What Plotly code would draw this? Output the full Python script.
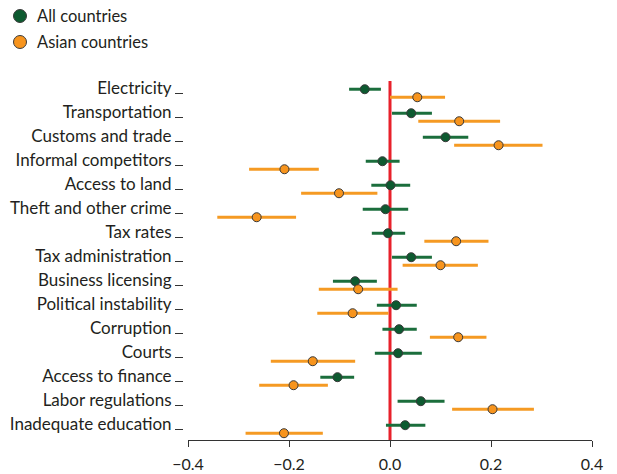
import plotly.graph_objects as go

# Constraint categories, top to bottom
categories = [
    "Electricity", "Transportation", "Customs and trade", "Informal competitors",
    "Access to land", "Theft and other crime", "Tax rates", "Tax administration",
    "Business licensing", "Political instability", "Corruption", "Courts",
    "Access to finance", "Labor regulations", "Inadequate education",
]

# All countries: estimate and confidence interval bounds
all_est = [-0.050, 0.042, 0.110, -0.015, 0.001, -0.009, -0.004, 0.042, -0.069, 0.012, 0.018, 0.016, -0.104, 0.061, 0.030]
all_lo = [-0.081, 0.004, 0.065, -0.048, -0.037, -0.054, -0.036, 0.004, -0.113, -0.026, -0.015, -0.030, -0.138, 0.015, -0.008]
all_hi = [-0.018, 0.083, 0.155, 0.019, 0.040, 0.036, 0.030, 0.083, -0.026, 0.053, 0.053, 0.063, -0.071, 0.108, 0.070]

# Asian countries: estimate and confidence interval bounds
asia_est = [0.054, 0.137, 0.215, -0.209, -0.101, -0.264, 0.131, 0.100, -0.063, -0.074, 0.135, -0.153, -0.191, 0.203, -0.210]
asia_lo = [0.000, 0.056, 0.127, -0.279, -0.176, -0.342, 0.068, 0.025, -0.141, -0.144, 0.079, -0.236, -0.259, 0.123, -0.286]
asia_hi = [0.109, 0.218, 0.302, -0.141, -0.025, -0.186, 0.195, 0.174, 0.015, -0.003, 0.191, -0.069, -0.123, 0.285, -0.133]

x_ticks = [-0.4, -0.2, 0.0, 0.2, 0.4]

GREEN_BAR = "#1b6e3c"
GREEN_DOT = "#0d5a30"
ORANGE_BAR = "#f59a23"
ORANGE_DOT = "#f7941d"
TEXT = "#231f20"
FONT = "Lato"

rows = list(range(len(categories)))
offset = 0.167


def series(est, lo, hi, ypos, bar_color, dot_color, name):
    return go.Scatter(
        x=est,
        y=ypos,
        mode="markers",
        name=name,
        showlegend=False,
        marker=dict(size=9, color=dot_color, line=dict(color="#3a3a3a", width=1)),
        error_x=dict(
            type="data",
            symmetric=False,
            array=[h - e for h, e in zip(hi, est)],
            arrayminus=[e - l for e, l in zip(est, lo)],
            color=bar_color,
            thickness=3,
            width=0,
        ),
        hoverinfo="skip",
    )


fig = go.Figure()
fig.add_trace(series(all_est, all_lo, all_hi, [r - offset for r in rows], GREEN_BAR, GREEN_DOT, "All countries"))
fig.add_trace(series(asia_est, asia_lo, asia_hi, [r + offset for r in rows], ORANGE_BAR, ORANGE_DOT, "Asian countries"))
# empty trace on the second y axis so its tick marks get drawn
fig.add_trace(go.Scatter(x=[None], y=[None], yaxis="y2", showlegend=False, hoverinfo="skip"))

# zero reference line
fig.add_shape(type="line", xref="x", yref="y domain", x0=0, x1=0, y0=0, y1=1,
              line=dict(color="#e8212b", width=3), layer="below")

# legend, drawn by hand
legend_items = [("All countries", GREEN_DOT, 16), ("Asian countries", ORANGE_DOT, 42)]
L, R, T, B = 183, 25, 81, 34
W, H = 617, 474
pw, ph = W - L - R, H - T - B
for label, color, py in legend_items:
    xp = (20 - L) / pw
    yp = 1 - (py - T) / ph
    fig.add_shape(type="circle", xref="paper", yref="paper", xsizemode="pixel", ysizemode="pixel",
                  xanchor=xp, yanchor=yp, x0=-6.5, x1=6.5, y0=-6.5, y1=6.5,
                  fillcolor=color, line=dict(color="#3a3a3a", width=1))
    fig.add_annotation(x=(35 - L) / pw, y=yp, xref="paper", yref="paper", text=label,
                       showarrow=False, xanchor="left", yanchor="middle",
                       font=dict(family=FONT, size=16.5, color=TEXT))

y_range = [14.45, -0.51]

fig.update_layout(
    width=W, height=H,
    margin=dict(l=L, r=R, t=T, b=B, autoexpand=False),
    paper_bgcolor="white", plot_bgcolor="white",
    font=dict(family=FONT, size=16, color=TEXT),
    xaxis=dict(
        domain=[5 / pw, 1],
        range=[-0.4, 0.4],
        tickvals=x_ticks,
        ticktext=[f"{v:.1f}".replace("-", "\u2212") for v in x_ticks],
        showgrid=False, zeroline=False,
        showline=True, linecolor="#333333", linewidth=1,
        ticks="outside", ticklen=6, tickcolor="#333333", tickwidth=1,
        ticklabelstandoff=4,
        automargin=False,
        tickfont=dict(family=FONT, size=16, color=TEXT),
    ),
    yaxis=dict(
        range=y_range,
        anchor="free", position=0,
        tickvals=[r - 0.21 for r in rows],
        ticktext=categories,
        ticks="outside", ticklen=8, tickcolor="rgba(0,0,0,0)",
        showgrid=False, zeroline=False, showline=False,
        automargin=False,
        tickfont=dict(family=FONT, size=17, color=TEXT),
    ),
    yaxis2=dict(
        range=y_range,
        overlaying="y",
        anchor="free", position=0,
        tickvals=rows,
        showticklabels=False,
        ticks="outside", ticklen=8, tickcolor="#333333", tickwidth=1,
        showgrid=False, zeroline=False, showline=False,
        automargin=False,
    ),
)

fig.write_html("out.html")
